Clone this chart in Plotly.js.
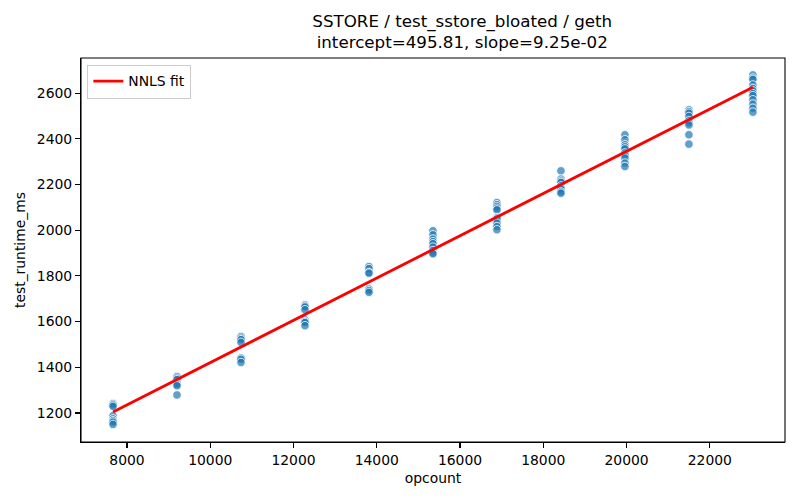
<!DOCTYPE html>
<html>
<head>
<meta charset="utf-8">
<script src="https://cdn.plot.ly/plotly-3.0.1.min.js"></script>
<style>html,body{margin:0;padding:0;background:#fff}#chart{width:800px;height:500px}</style>
</head>
<body>
<div id="chart"></div>
<script>
// opcount groups
const opcounts = [7665, 9202, 10739, 12276, 13813, 15350, 16887, 18424, 19961, 21498, 23035];
// runtimes per opcount group (ms)
const runtimes = [
  [1241, 1235, 1229, 1188, 1174, 1166, 1160, 1150],
  [1360, 1352, 1346, 1331, 1325, 1319, 1279],
  [1535, 1527, 1521, 1509, 1441, 1435, 1421],
  [1674, 1668, 1664, 1652, 1608, 1600, 1596, 1582],
  [1841, 1832, 1815, 1812, 1743, 1736, 1728],
  [1998, 1980, 1961, 1950, 1941, 1926, 1911, 1900, 1897],
  [2121, 2112, 2104, 2096, 2089, 2055, 2049, 2031, 2016, 2002],
  [2260, 2224, 2215, 2209, 2194, 2186, 2180, 2168, 2162],
  [2418, 2396, 2374, 2365, 2356, 2338, 2328, 2316, 2294, 2279],
  [2527, 2519, 2512, 2498, 2479, 2470, 2461, 2418, 2377],
  [2680, 2666, 2660, 2636, 2620, 2610, 2598, 2589, 2571, 2552, 2534, 2517]
];
// NNLS fit line endpoints
const fitX = [7665, 23035];
const fitY = [1204.8, 2626.5];

const ptsX = [], ptsY = [];
opcounts.forEach((x, i) => runtimes[i].forEach(v => { ptsX.push(x); ptsY.push(v); }));

const font = 'DejaVu Sans, Liberation Sans, sans-serif';
const traces = [
  {
    x: ptsX, y: ptsY, type: 'scatter', mode: 'markers', showlegend: false,
    marker: {size: 8.5, color: 'rgba(31,119,180,0.7)', line: {color: 'rgba(255,255,255,0.9)', width: 0.9}},
    hoverinfo: 'x+y'
  },
  {
    x: fitX, y: fitY, type: 'scatter', mode: 'lines', name: 'NNLS fit',
    line: {color: 'red', width: 2.8}
  }
];

const axisCommon = {
  showgrid: false, zeroline: false, showline: true, mirror: false,
  linecolor: '#000', linewidth: 1.1, ticks: 'outside', ticklen: 4.9, tickwidth: 1.1,
  tickcolor: '#000', tickfont: {family: font, size: 13.9, color: '#000'}
};

const layout = {
  width: 800, height: 500,
  margin: {l: 81, r: 15, t: 58, b: 58, pad: 0},
  paper_bgcolor: '#fff', plot_bgcolor: '#fff',
  font: {family: font, color: '#000'},
  title: {
    text: 'SSTORE / test_sstore_bloated / geth<br>intercept=495.81, slope=9.25e-02',
    font: {family: font, size: 16.7, color: '#000'},
    x: 0.5415, xanchor: 'center', xref: 'paper',
    y: 0.947, yanchor: 'top', yref: 'container'
  },
  xaxis: Object.assign({}, axisCommon, {
    range: [6896, 23806], tickvals: [8000, 10000, 12000, 14000, 16000, 18000, 20000, 22000],
    ticktext: ['8000', '10000', '12000', '14000', '16000', '18000', '20000', '22000'],
    title: {text: 'opcount', font: {family: font, size: 13.9, color: '#000'}, standoff: 6}
  }),
  yaxis: Object.assign({}, axisCommon, {
    range: [1073, 2754], tickvals: [1200, 1400, 1600, 1800, 2000, 2200, 2400, 2600],
    ticktext: ['1200', '1400', '1600', '1800', '2000', '2200', '2400', '2600'],
    title: {text: 'test_runtime_ms', font: {family: font, size: 13.9, color: '#000'}, standoff: 8}
  }),
  shapes: [{
    type: 'rect', xref: 'paper', yref: 'paper', x0: 0, x1: 1, y0: 0, y1: 1,
    line: {color: '#000', width: 1.1}, fillcolor: 'rgba(0,0,0,0)', layer: 'above'
  }],
  legend: {
    x: 0.009, y: 0.983, xanchor: 'left', yanchor: 'top',
    bgcolor: 'rgba(255,255,255,0.8)', bordercolor: '#cccccc', borderwidth: 1,
    font: {family: font, size: 13.9, color: '#000'}
  },
  showlegend: true
};

Plotly.newPlot('chart', traces, layout, {displayModeBar: false, staticPlot: true});
</script>
</body>
</html>
